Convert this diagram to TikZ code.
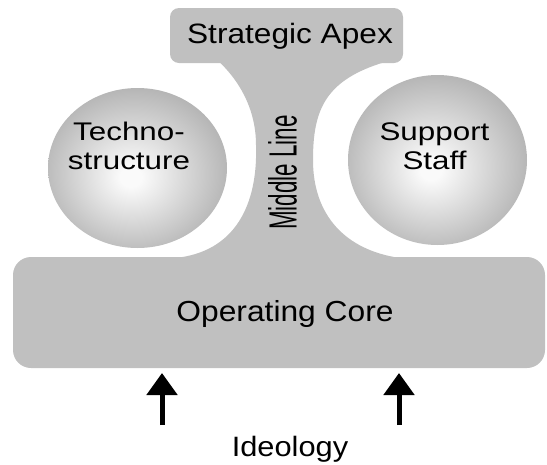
\documentclass[tikz,border=0pt]{standalone}
\usepackage{fontspec}
\setmainfont{Liberation Sans}
\usetikzlibrary{arrows.meta}
\definecolor{bgray}{RGB}{192,192,192}
\definecolor{ballin}{RGB}{250,250,250}
\definecolor{ballout}{RGB}{180,180,180}
\pgfdeclareradialshading{ballshade}{\pgfpoint{-2bp}{-3bp}}{color(0bp)=(ballin); color(3bp)=(ballin); color(27bp)=(ballout); color(50bp)=(ballout)}
\begin{document}
\begin{tikzpicture}[x=1pt,y=-1pt,
  part/.style={fill=bgray},
  ball/.style={shading=ballshade},
  lbl/.style={inner sep=0pt, text=black},
  ideoarrow/.style={line width=5pt, -{Triangle[length=22pt,width=30pt]}}]
\useasboundingbox (0,0) rectangle (547,464);
% middle line (neck)
\fill[part] (215,58) .. controls (240,80) and (256,110) .. (256,145)
  .. controls (258,205) and (235,252) .. (175,258) -- (175,262) -- (400,262) -- (400,258)
  .. controls (345,250) and (313,215) .. (313,160)
  .. controls (313,110) and (325,80) .. (385,62) -- cycle;
% strategic apex and operating core
\fill[part, rounded corners=9pt] (170,8) rectangle (403,63);
\fill[part, rounded corners=18pt] (13,257) rectangle (545,368);
% technostructure and support staff
\path[ball] (137.5,168) ellipse [x radius=89.5pt, y radius=80pt];
\path[ball] (437.5,160) ellipse [x radius=89.5pt, y radius=85pt];
% labels
\node[lbl, anchor=base, font=\fontsize{28}{30}\selectfont, xscale=1.13] (apex) at (290,43.3) {Strategic Apex};
\node[lbl, align=center, font=\fontsize{25.5}{29}\selectfont, xscale=1.23] (tech) at (129,146) {Techno-\\structure};
\node[lbl, align=center, font=\fontsize{25.5}{29}\selectfont, xscale=1.23] (supp) at (434.5,146.5) {Support\\Staff};
\node[lbl, rotate=90, font=\fontsize{39.3}{40}\selectfont] (mid) at (282.5,172.5) {\scalebox{0.57}[1]{Middle Line}};
\node[lbl, anchor=base, font=\fontsize{29}{31}\selectfont, xscale=1.095] (core) at (285,321) {Operating Core};
\node[lbl, anchor=base, font=\fontsize{28}{30}\selectfont, xscale=1.1] (ideo) at (290,456) {Ideology};
% ideology arrows
\coordinate (a1s) at (162,425);
\coordinate (a1e) at (162,373);
\coordinate (a2s) at (399,425);
\coordinate (a2e) at (399,373);
\draw[ideoarrow] (a1s) -- (a1e);
\draw[ideoarrow] (a2s) -- (a2e);
\end{tikzpicture}
\end{document}
